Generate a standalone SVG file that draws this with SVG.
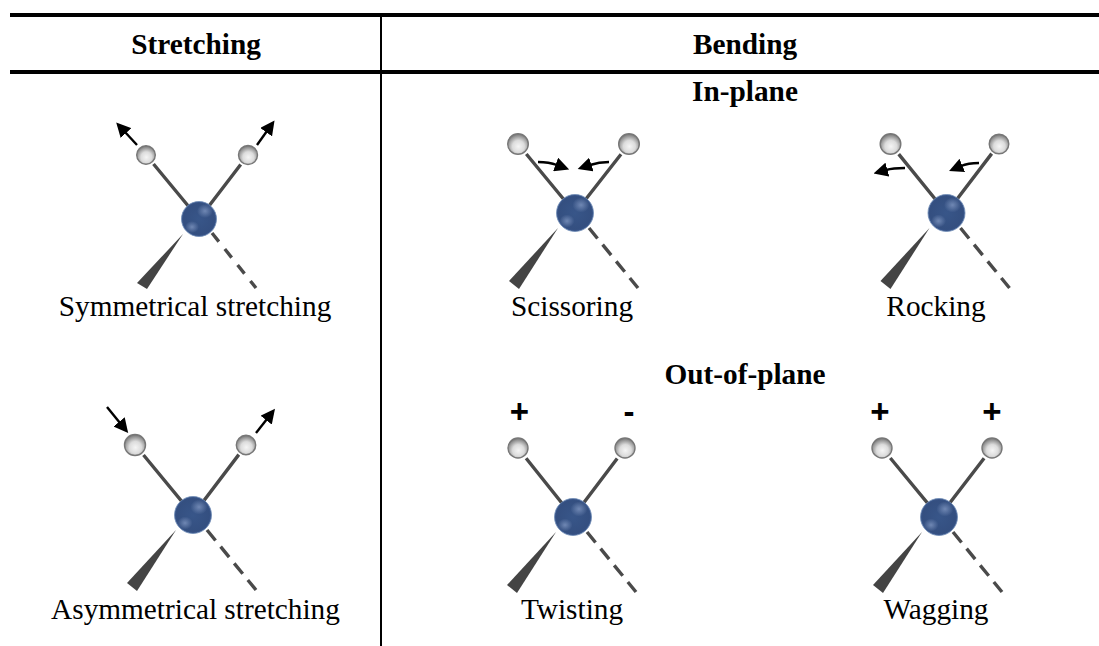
<svg xmlns="http://www.w3.org/2000/svg" width="1099" height="646" viewBox="0 0 1099 646">
  <style>
    text { font-family: "Liberation Serif", "Times New Roman", serif; font-size: 29.3px; fill: #000; text-anchor: middle; }
    .head { font-weight: bold; }
    .sign { font-family: "Liberation Sans", Arial, sans-serif; font-weight: bold; font-size: 33px; }
    .rule { stroke: #000; fill: none; }
    .bond { stroke: #4a4a4a; stroke-width: 3.4; fill: none; }
    .back { stroke: #4a4a4a; stroke-width: 3.4; stroke-dasharray: 13.5 8; fill: none; }
    .back-short { stroke-dasharray: 11 9.500; }
    .wedge { fill: #444; }
    .move { stroke: #000; stroke-width: 2.4; fill: none; }
    .core { fill: url(#coreFill); stroke: #6f8bb5; stroke-width: .8; }
    .glint { fill: url(#glintFill); }
    .atom { fill: url(#atomFill); stroke: #777; stroke-width: 1.4; }
  </style>
  <defs>
    <radialGradient id="atomFill" cx=".52" cy=".62" r=".58">
      <stop offset="0" stop-color="#f5f5f5"/>
      <stop offset=".5" stop-color="#dcdcdc"/>
      <stop offset="1" stop-color="#7d7d7d"/>
    </radialGradient>
    <radialGradient id="coreFill" cx=".5" cy=".5" r=".52">
      <stop offset="0" stop-color="#385689"/>
      <stop offset=".85" stop-color="#344f80"/>
      <stop offset="1" stop-color="#3c5a92"/>
    </radialGradient>
    <radialGradient id="glintFill">
      <stop offset="0" stop-color="#7a91bc" stop-opacity=".85"/>
      <stop offset="1" stop-color="#7a91bc" stop-opacity="0"/>
    </radialGradient>
    <marker id="tip" viewBox="0 0 10 10" refX="1" refY="5" markerWidth="6" markerHeight="6" orient="auto">
      <path d="M0 0L10 5L0 10Z"/>
    </marker>
    <!-- Heavy atom with its wedge and dashed bonds; the first body is the smaller one -->
    <g id="core-small">
      <polygon class="wedge" points="-16,15 -62,64 -52,70"/>
      <path class="back back-short" d="M13 14L57 69"/>
      <circle class="core" r="17.500"/>
      <ellipse class="glint" cx="6" cy="-8" rx="8" ry="7"/>
      <ellipse class="glint" cx="-7" cy="8" rx="7" ry="6"/>
    </g>
    <g id="core-large">
      <polygon class="wedge" points="-17,15 -66,68 -56,76"/>
      <path class="back" d="M14 15L63 75"/>
      <circle class="core" r="18.500"/>
      <ellipse class="glint" cx="6" cy="-8" rx="8.500" ry="7.500"/>
      <ellipse class="glint" cx="-8" cy="8" rx="7.500" ry="6.500"/>
    </g>
  </defs>

  <g id="table">
    <path class="rule" stroke-width="4" d="M10 15H1099M10 72H1099"/>
    <path class="rule" stroke-width="2" d="M381 15V646"/>
  </g>

  <g id="headings">
    <text class="head" x="196" y="54">Stretching</text>
    <text class="head" x="745" y="54">Bending</text>
    <text class="head" x="745" y="101">In-plane</text>
    <text class="head" x="745" y="384">Out-of-plane</text>
  </g>

  <g id="connectors">
    <path class="bond" d="M153.500 164L199 219M240.700 164.500L199 219"/>
    <path class="bond" d="M143.500 455L193 515M238.800 454.600L193 515"/>
    <path class="bond" d="M526.300 154L575 213M621 154.200L575 213"/>
    <path class="bond" d="M898.700 154.100L946.500 213M991.700 153.600L946.500 213"/>
    <path class="bond" d="M526.100 458.200L573 517M617.200 458.400L573 517"/>
    <path class="bond" d="M890.300 458L939 517M984.100 458.300L939 517"/>
  </g>

  <g id="symmetrical-stretching">
    <use href="#core-small" x="199" y="219"/>
    <circle class="atom" cx="146" cy="155" r="9.300"/>
    <circle class="atom" cx="248" cy="155" r="9.500"/>
    <path class="move" marker-end="url(#tip)" d="M137 145L125 132"/>
    <path class="move" marker-end="url(#tip)" d="M257 145L267 131"/>
    <text x="195" y="316">Symmetrical stretching</text>
  </g>

  <g id="asymmetrical-stretching">
    <use href="#core-large" x="193" y="515"/>
    <circle class="atom" cx="135" cy="445" r="10.500"/>
    <circle class="atom" cx="246" cy="445" r="9.700"/>
    <path class="move" marker-end="url(#tip)" d="M107 407L120 423"/>
    <path class="move" marker-end="url(#tip)" d="M256 433L267 419"/>
    <text x="195.500" y="619">Asymmetrical stretching</text>
  </g>

  <g id="scissoring">
    <use href="#core-large" x="575" y="213"/>
    <circle class="atom" cx="518" cy="144" r="10.300"/>
    <circle class="atom" cx="629" cy="144" r="10.300"/>
    <path class="move" marker-end="url(#tip)" d="M538 162Q549 162 557 165"/>
    <path class="move" marker-end="url(#tip)" d="M609 162Q599 162 590 165"/>
    <text x="572" y="316">Scissoring</text>
  </g>

  <g id="rocking">
    <use href="#core-large" x="946.500" y="213"/>
    <circle class="atom" cx="890.500" cy="144" r="10.300"/>
    <circle class="atom" cx="999" cy="144" r="9.800"/>
    <path class="move" marker-end="url(#tip)" d="M905 168Q893 168 886 170"/>
    <path class="move" marker-end="url(#tip)" d="M979 163Q968 163 961 166"/>
    <text x="936" y="316">Rocking</text>
  </g>

  <g id="twisting">
    <use href="#core-large" x="573" y="517"/>
    <circle class="atom" cx="518" cy="448" r="10"/>
    <circle class="atom" cx="625" cy="448" r="10"/>
    <text class="sign" x="519.500" y="422.500">+</text>
    <text class="sign" x="629" y="423">-</text>
    <text x="572" y="619">Twisting</text>
  </g>

  <g id="wagging">
    <use href="#core-large" x="939" y="517"/>
    <circle class="atom" cx="882" cy="448" r="10"/>
    <circle class="atom" cx="992" cy="448" r="10"/>
    <text class="sign" x="880" y="422.500">+</text>
    <text class="sign" x="992" y="422.500">+</text>
    <text x="936" y="619">Wagging</text>
  </g>
</svg>
